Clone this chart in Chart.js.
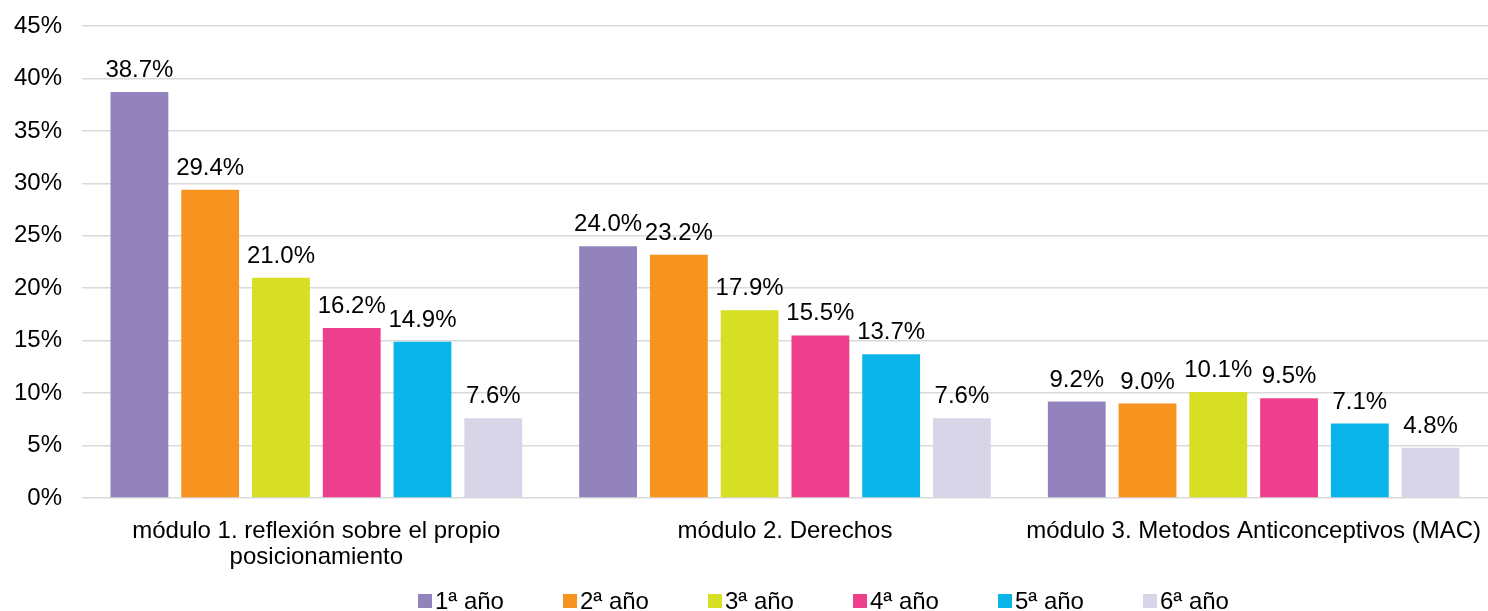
<!DOCTYPE html>
<html>
<head>
<meta charset="utf-8">
<script src="https://cdn.jsdelivr.net/npm/chart.js@4"></script>
<style>
  html, body { margin: 0; padding: 0; background: #fff; }
  #wrap { width: 1488px; height: 611px; position: relative; }
</style>
</head>
<body>
<div id="wrap"><canvas id="moduloChart"></canvas></div>
<script>
// Categories (módulos) and one series per school year
const modulos = [
  ['módulo 1. reflexión sobre el propio', 'posicionamiento'],
  'módulo 2. Derechos',
  'módulo 3. Metodos Anticonceptivos (MAC)'
];
const anios = ['1ª año', '2ª año', '3ª año', '4ª año', '5ª año', '6ª año'];
const anio1 = [38.7, 24.0, 9.2];
const anio2 = [29.4, 23.2, 9.0];
const anio3 = [21.0, 17.9, 10.1];
const anio4 = [16.2, 15.5, 9.5];
const anio5 = [14.9, 13.7, 7.1];
const anio6 = [7.6, 7.6, 4.8];
const yTicks = [0, 5, 10, 15, 20, 25, 30, 35, 40, 45];

const colores = ['#9383bd', '#f7941f', '#d6df23', '#ee3f8c', '#09b5e8', '#d9d5e9'];
const series = [anio1, anio2, anio3, anio4, anio5, anio6];
const FONT = 'Liberation Sans, Arial, sans-serif';

// value labels above each bar
const valueLabels = {
  id: 'valueLabels',
  afterDatasetsDraw(chart) {
    const ctx = chart.ctx;
    ctx.save();
    ctx.font = '24px ' + FONT;
    ctx.fillStyle = '#000';
    ctx.textAlign = 'center';
    ctx.textBaseline = 'alphabetic';
    chart.data.datasets.forEach((ds, i) => {
      chart.getDatasetMeta(i).data.forEach((bar, j) => {
        ctx.fillText(ds.data[j].toFixed(1) + '%', bar.x, bar.y - 15);
      });
    });
    ctx.restore();
  }
};

// legend row along the bottom with small square markers
const bottomLegend = {
  id: 'bottomLegend',
  afterDraw(chart) {
    const ctx = chart.ctx;
    const step = 145;
    const startX = 418;
    const y = 601;
    ctx.save();
    ctx.font = '24px ' + FONT;
    ctx.textBaseline = 'middle';
    chart.data.datasets.forEach((ds, i) => {
      const x = startX + i * step;
      ctx.fillStyle = ds.backgroundColor;
      ctx.fillRect(x, y - 7, 14, 14);
      ctx.fillStyle = '#000';
      ctx.fillText(ds.label, x + 17, y + 1);
    });
    ctx.restore();
  }
};

const ctx = document.getElementById('moduloChart').getContext('2d');
new Chart(ctx, {
  type: 'bar',
  data: {
    labels: modulos,
    datasets: anios.map((a, i) => ({
      label: a,
      data: series[i],
      backgroundColor: colores[i],
      categoryPercentage: 0.906,
      barPercentage: 0.817
    }))
  },
  options: {
    responsive: true,
    maintainAspectRatio: false,
    animation: false,
    layout: {
      padding: { top: 26, left: 14, right: -2, bottom: 40 }
    },
    plugins: {
      legend: { display: false },
      tooltip: { enabled: false }
    },
    scales: {
      x: {
        grid: { display: false, drawTicks: false },
        border: { display: false },
        ticks: {
          color: '#000',
          padding: 20,
          maxRotation: 0,
          autoSkip: false,
          font: { family: FONT, size: 24, lineHeight: 1.1 }
        },
        afterFit(axis) {
          // two label lines plus tick padding; no side overflow
          axis.height = 73;
          axis.paddingLeft = 0;
          axis.paddingRight = 0;
        }
      },
      y: {
        min: 0,
        max: 45,
        afterBuildTicks(axis) {
          axis.ticks = yTicks.map(v => ({ value: v }));
        },
        grid: { color: '#d9d9d9', lineWidth: 1.5, drawTicks: false },
        border: { display: false },
        ticks: {
          color: '#000',
          padding: 20,
          font: { family: FONT, size: 24 },
          callback: v => v + '%'
        },
        afterFit(axis) {
          axis.width = 68;
          axis.paddingTop = 0;
          axis.paddingBottom = 0;
        }
      }
    }
  },
  plugins: [valueLabels, bottomLegend]
});
</script>
</body>
</html>
